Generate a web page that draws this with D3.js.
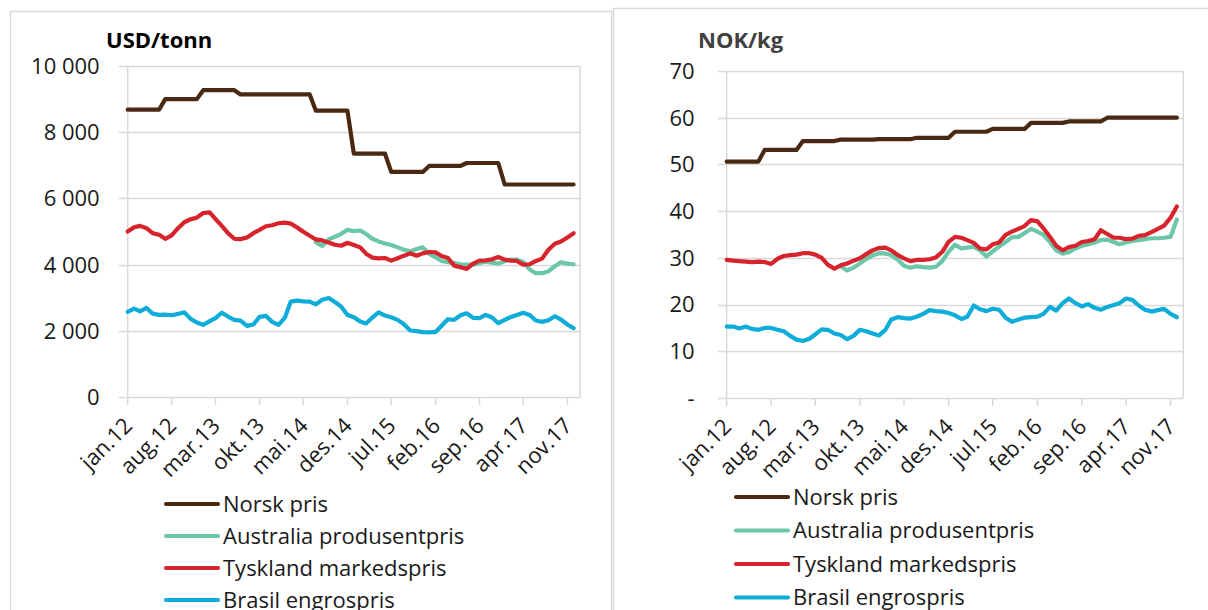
<!DOCTYPE html>
<html>
<head>
<meta charset="utf-8">
<script src="https://cdn.jsdelivr.net/npm/d3@7"></script>
<style>
body{margin:0;background:#fff;}
svg{display:block;font-family:"Open Sans",sans-serif;}
</style>
</head>
<body>
<div id="chart-area"></div>
<script>
//data - monthly prices jan.12 .. des.17
var months = d3.timeMonth.range(new Date(2012,0,1), new Date(2018,0,1));
var tickLabels = ["jan.12","aug.12","mar.13","okt.13","mai.14","des.14","jul.15","feb.16","sep.16","apr.17","nov.17"];
var seriesNames = ["Norsk pris","Australia produsentpris","Tyskland markedspris","Brasil engrospris"];
var seriesColors = ["#4a2912","#6cc6a8","#d7242c","#0eacd8"];

//USD/tonn
var usdTicks = [0,2000,4000,6000,8000,10000];
var norskUSD = [8680,8680,8680,8680,8680,8680, 9000,9000,9000,9000,9000,9000,
    9270,9270,9270,9270,9270,9270, 9140,9140,9140,9140,9140,9140,
    9140,9140,9140,9140,9140,9140, 8650,8650,8650,8650,8650,8650,
    7350,7350,7350,7350,7350,7350, 6800,6800,6800,6800,6800,6800,
    6980,6980,6980,6980,6980,6980, 7070,7070,7070,7070,7070,7070,
    6420,6420,6420,6420,6420,6420, 6420,6420,6420,6420,6420,6420];
var australiaUSD = [null,null,null,null,null,null,null,null,null,null,null,null,
    null,null,null,null,null,null,null,null,null,null,null,null,
    null,null,null,null,null,null,4680,4560,4760,4840,4930,5050,
    5010,5030,4930,4780,4700,4640,4590,4520,4450,4400,4470,4520,
    4330,4220,4110,4070,4050,4010,4000,4000,4050,4090,4060,4030,
    4100,4150,4150,4080,3860,3740,3740,3800,3950,4070,4030,4010];
var tysklandUSD = [5000,5130,5170,5100,4950,4900,4780,4880,5100,5280,5370,5420,
    5560,5580,5380,5170,4950,4780,4770,4820,4950,5050,5160,5190,
    5250,5270,5240,5120,4990,4870,4760,4730,4670,4600,4570,4660,
    4590,4520,4330,4210,4190,4200,4120,4190,4270,4340,4270,4340,
    4380,4370,4260,4200,3970,3920,3870,4030,4120,4130,4160,4230,
    4150,4120,4110,4000,4010,4110,4180,4450,4630,4700,4820,4950];
var brasilUSD = [2575,2670,2590,2690,2520,2480,2490,2470,2510,2560,2360,2250,
    2180,2290,2380,2545,2430,2330,2310,2150,2190,2420,2450,2270,
    2180,2400,2880,2910,2890,2880,2800,2940,2990,2870,2730,2480,
    2410,2280,2220,2400,2560,2460,2410,2330,2200,2010,1990,1960,
    1950,1965,2150,2350,2330,2470,2530,2390,2380,2480,2400,2230,
    2330,2420,2480,2545,2480,2310,2270,2320,2440,2340,2190,2080];

//NOK/kg
var nokTicks = [0,10,20,30,40,50,60,70];
var norskNOK = [50.6,50.6,50.6,50.6,50.6,50.6, 53.1,53.1,53.1,53.1,53.1,53.1,
    55.0,55.0,55.0,55.0,55.0,55.0, 55.3,55.3,55.3,55.3,55.3,55.3,
    55.4,55.4,55.4,55.4,55.4,55.4, 55.7,55.7,55.7,55.7,55.7,55.7,
    57.0,57.0,57.0,57.0,57.0,57.0, 57.6,57.6,57.6,57.6,57.6,57.6,
    58.9,58.9,58.9,58.9,58.9,58.9, 59.2,59.2,59.2,59.2,59.2,59.2,
    60.0,60.0,60.0,60.0,60.0,60.0, 60.0,60.0,60.0,60.0,60.0,60.0];
var australiaNOK = [null,null,null,null,null,null,null,null,null,null,null,null,
    null,null,null,null,null,null,28.2,27.3,27.9,28.8,29.8,30.5,
    31.0,30.9,30.6,29.6,28.3,27.9,28.2,28.0,27.9,28.1,29.3,31.3,
    32.8,32.0,32.2,32.4,31.6,30.3,31.4,32.4,33.4,34.4,34.5,35.3,
    36.2,35.6,34.9,33.4,31.6,30.9,31.2,32.0,32.6,32.9,33.3,33.8,
    33.9,33.4,32.9,33.3,33.6,33.8,34.0,34.2,34.2,34.3,34.5,38.2];
var tysklandNOK = [29.55,29.4,29.3,29.2,29.1,29.2,29.1,28.7,29.8,30.4,30.6,30.7,
    31.0,31.0,30.7,30.0,28.5,27.7,28.4,28.8,29.4,29.9,30.8,31.6,
    32.1,32.2,31.6,30.6,29.9,29.3,29.55,29.55,29.7,30.1,31.3,33.4,
    34.5,34.3,33.8,33.2,32.0,31.8,32.9,33.3,34.9,35.6,36.2,36.8,
    38.1,37.8,36.3,34.5,32.6,31.6,32.3,32.6,33.4,33.6,34.0,35.9,
    35.1,34.3,34.3,34.0,34.1,34.7,34.85,35.5,36.2,36.9,38.6,41.0];
var brasilNOK = [15.3,15.3,14.9,15.3,14.8,14.6,15.0,15.0,14.6,14.3,13.3,12.5,
    12.2,12.7,13.6,14.7,14.6,13.8,13.5,12.6,13.3,14.6,14.3,13.8,
    13.4,14.6,16.8,17.3,17.1,17.0,17.4,18.0,18.8,18.6,18.5,18.2,
    17.7,16.9,17.4,19.8,19.0,18.6,19.1,18.9,17.2,16.3,16.8,17.2,
    17.3,17.4,18.0,19.5,18.7,20.3,21.3,20.3,19.6,20.1,19.3,18.9,
    19.5,19.9,20.3,21.3,21.0,19.8,18.9,18.5,18.8,19.1,18.0,17.3];

//svg frame
var svg = d3.select("#chart-area")
    .append("svg")
        .attr("width", 1208)
        .attr("height", 610);

//panel frames (they run off the bottom/right of the picture)
svg.append("rect")
    .attr("x", 10.5).attr("y", 11.5)
    .attr("width", 601).attr("height", 620)
    .attr("fill", "none").attr("stroke", "#d9d9d9").attr("stroke-width", 1.5);
svg.append("rect")
    .attr("x", 613.5).attr("y", 8.5)
    .attr("width", 620).attr("height", 620)
    .attr("fill", "none").attr("stroke", "#d9d9d9").attr("stroke-width", 1.5);

//thousands with space, zero as dash for NOK
var fmtUSD = function(v){ return d3.format(",")(v).replace(/,/g, " "); };
var fmtNOK = function(v){ return v === 0 ? "-" : String(v); };

var fontSize = 22;

drawPanel({
    left:127.7, right:580, top:66, bottom:397, max:10000,
    ticks:usdTicks, fmt:fmtUSD, labelGap:28,
    title:"USD/tonn", titleX:106, titleColor:"#000",
    series:[norskUSD, australiaUSD, tysklandUSD, brasilUSD],
    legendX:166, legendY:504, legendGap:32
});

drawPanel({
    left:726.7, right:1183.3, top:71, bottom:398, max:70,
    ticks:nokTicks, fmt:fmtNOK, labelGap:32,
    title:"NOK/kg", titleX:698, titleColor:"#404040",
    series:[norskNOK, australiaNOK, tysklandNOK, brasilNOK],
    legendX:736, legendY:497, legendGap:33.5
});

function drawPanel(p){
    var g = svg.append("g");

    //scales
    var x = d3.scaleTime()
        .domain([new Date(2012,0,1), new Date(2018,0,1)])
        .range([p.left, p.right]);
    var y = d3.scaleLinear()
        .domain([0, p.max])
        .range([p.bottom, p.top]);

    //gridlines + small outside tick on the left
    g.selectAll(".grid")
        .data(p.ticks)
      .enter().append("line")
        .attr("x1", p.left - 9).attr("x2", p.right)
        .attr("y1", d => Math.round(y(d)) + 0.5).attr("y2", d => Math.round(y(d)) + 0.5)
        .attr("stroke", "#d9d9d9").attr("stroke-width", 1.5);

    //plot area sides
    g.append("line")
        .attr("x1", p.left).attr("x2", p.left)
        .attr("y1", p.top).attr("y2", p.bottom)
        .attr("stroke", "#d9d9d9").attr("stroke-width", 1.5);
    g.append("line")
        .attr("x1", p.right).attr("x2", p.right)
        .attr("y1", p.top).attr("y2", p.bottom)
        .attr("stroke", "#d9d9d9").attr("stroke-width", 1.5);

    //y labels
    g.selectAll(".ylab")
        .data(p.ticks)
      .enter().append("text")
        .attr("x", p.left - p.labelGap)
        .attr("y", d => y(d))
        .attr("dy", "0.36em")
        .attr("text-anchor", "end")
        .attr("font-size", fontSize)
        .attr("fill", "#1a1a1a")
        .text(p.fmt);

    //x axis ticks every 7th month
    var tickDates = tickLabels.map((t,i) => months[i*7]);
    g.selectAll(".xtick")
        .data(tickDates)
      .enter().append("line")
        .attr("x1", d => x(d)).attr("x2", d => x(d))
        .attr("y1", p.bottom).attr("y2", p.bottom + 8)
        .attr("stroke", "#d9d9d9").attr("stroke-width", 1.5);

    g.selectAll(".xlab")
        .data(tickDates)
      .enter().append("text")
        .attr("transform", d => "translate(" + (x(d) + 6) + "," + (p.bottom + 30) + ") rotate(-45)")
        .attr("text-anchor", "end")
        .attr("font-size", fontSize)
        .attr("fill", "#1a1a1a")
        .text((d,i) => tickLabels[i]);

    //title
    g.append("text")
        .attr("x", p.titleX).attr("y", 48)
        .attr("font-size", fontSize)
        .attr("font-weight", "bold")
        .attr("fill", p.titleColor)
        .text(p.title);

    //lines
    var line = d3.line()
        .defined(d => d.v != null)
        .x(d => x(d.date))
        .y(d => y(d.v));

    p.series.forEach((s,k) => {
        g.append("path")
            .datum(s.map((v,i) => ({date: months[i], v: v})))
            .attr("d", line)
            .attr("fill", "none")
            .attr("stroke", seriesColors[k])
            .attr("stroke-width", 4.2)
            .attr("stroke-linejoin", "round")
            .attr("stroke-linecap", "round");
    });

    //legend
    var leg = g.selectAll(".legend")
        .data(seriesNames)
      .enter().append("g")
        .attr("transform", (d,i) => "translate(" + p.legendX + "," + (p.legendY + i * p.legendGap) + ")");
    leg.append("line")
        .attr("x1", 0).attr("x2", 52)
        .attr("stroke", (d,i) => seriesColors[i])
        .attr("stroke-width", 4.2)
        .attr("stroke-linecap", "round");
    leg.append("text")
        .attr("x", 57)
        .attr("dy", "0.36em")
        .attr("font-size", fontSize)
        .attr("fill", "#1a1a1a")
        .text(d => d);
}
</script>
</body>
</html>
